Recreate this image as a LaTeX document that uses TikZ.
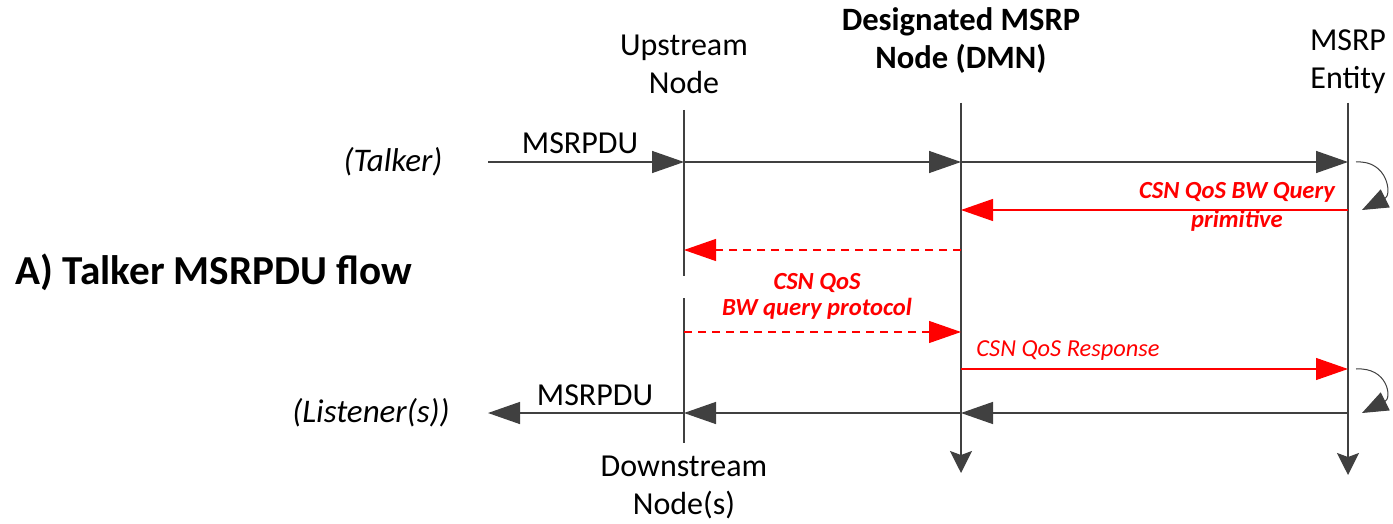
\documentclass[tikz,border=0pt]{standalone}
\usepackage{fontspec}
\setmainfont{Carlito}
\usetikzlibrary{arrows.meta}

\definecolor{linegray}{RGB}{64,64,64}

\tikzset{
  lifeline/.style={draw=linegray, line width=0.7pt},
  msg/.style={draw=linegray, line width=0.7pt, -{Triangle[length=16pt,width=11pt]}},
  csn/.style={draw=red, line width=0.6pt, -{Triangle[length=16pt,width=11pt]}},
  csndash/.style={csn, dash pattern=on 4pt off 3pt},
  selfloop/.style={draw=linegray, line width=0.5pt, -{Triangle[length=13pt,width=10pt]}},
  endtip/.style={-{Stealth[length=11pt,width=11pt,inset=2pt]}},
  head/.style={font=\fontsize{16}{19}\selectfont, align=center, inner sep=0pt},
  boldhead/.style={head, font=\fontsize{16.3}{19}\selectfont\bfseries},
  side/.style={font=\fontsize{16.5}{19}\selectfont\itshape, inner sep=0pt},
  redlbl/.style={text=red, font=\fontsize{12.3}{14.5}\selectfont\bfseries\itshape, align=center, inner sep=0pt}
}

\begin{document}
\begin{tikzpicture}[x=0.5pt, y=-0.5pt]
\useasboundingbox (0,0) rectangle (1393,524);

% lifeline heads
\node[head] (upstream) at (684,64) {Upstream\\Node};
\node[boldhead] (dmn) at (961,41) {Designated MSRP\\Node (DMN)};
\node[head] (entity) at (1348,62) {MSRP\\Entity};
\node[head] (downstream) at (684,487) {Downstream\\Node(s)};

% lifelines
\coordinate (up) at (684,110);
\coordinate (upgap) at (684,276);
\coordinate (upres) at (684,298);
\coordinate (upend) at (684,443);
\coordinate (dm) at (961,103);
\coordinate (dmend) at (961,473);
\coordinate (en) at (1348,103);
\coordinate (enend) at (1348,475);

\draw[lifeline] (up) -- (upgap);
\draw[lifeline] (upres) -- (upend);
\draw[lifeline, endtip, fill=linegray] (dm) -- (dmend);
\draw[lifeline, endtip, fill=linegray] (en) -- (enend);

% message rows
\coordinate (talk) at (488,162);
\coordinate (query) at (0,210);
\coordinate (dq) at (0,250);
\coordinate (dqback) at (0,332);
\coordinate (resp) at (0,369);
\coordinate (listen) at (488,413);

% talker side
\node[side] (talker) at (393,162) {(Talker)};
\node[head] (pdutop) at (580,143) {MSRPDU};
\draw[msg] (talk) -- (up |- talk);
\draw[msg] (up |- talk) -- (dm |- talk);
\draw[msg] (dm |- talk) -- (en |- talk);
\draw[selfloop] ([xshift=4]en |- talk) .. controls (1388,160) and (1392,195) .. ([xshift=7]en |- query);

% CSN QoS query
\draw[csn] (en |- query) -- (dm |- query);
\node[redlbl] (primlbl) at (1237,207) {CSN QoS BW Query\\primitive};
\draw[csndash] (dm |- dq) -- (up |- dq);
\node[redlbl, font=\fontsize{12.3}{13}\selectfont\bfseries\itshape] (protolbl) at (817,296) {CSN QoS\\BW query protocol};
\draw[csndash] (up |- dqback) -- (dm |- dqback);
\node[text=red, font=\fontsize{12.2}{14}\selectfont\itshape, inner sep=0pt] (resplbl) at (1068,351) {CSN QoS Response};
\draw[csn] (dm |- resp) -- (en |- resp);
\draw[selfloop] ([xshift=4]en |- resp) .. controls (1388,367) and (1392,398) .. ([xshift=7]en |- listen);

% listener side
\draw[msg] (en |- listen) -- (dm |- listen);
\draw[msg] (dm |- listen) -- (up |- listen);
\draw[msg] (up |- listen) -- (listen);
\node[head] (pdubot) at (595,395) {MSRPDU};
\node[side] (listener) at (371,413) {(Listener(s))};

% title
\node[font=\fontsize{20.6}{24}\selectfont\bfseries, inner sep=0pt] (title) at (214,272) {A) Talker MSRPDU flow};

\end{tikzpicture}
\end{document}
